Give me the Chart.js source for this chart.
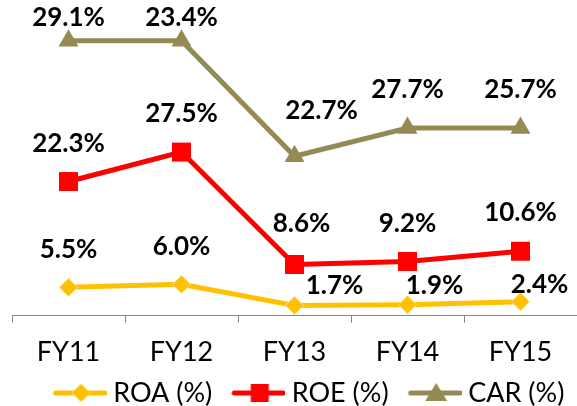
<!DOCTYPE html>
<html>
<head>
<meta charset="utf-8">
<script src="https://cdn.jsdelivr.net/npm/chart.js@4.4.0/dist/chart.umd.min.js"></script>
<style>
  body { margin: 0; background: #fff; overflow: hidden; }
</style>
</head>
<body>
<canvas id="chart" width="577" height="406"></canvas>
<script>
// categories
const years = ["FY11", "FY12", "FY13", "FY14", "FY15"];

// printed data labels (%)
const roaLabels = [5.5, 6.0, 1.7, 1.9, 2.4];
const roeLabels = [22.3, 27.5, 8.6, 9.2, 10.6];
const carLabels = [29.1, 23.4, 22.7, 27.7, 25.7];

// plotted levels (the original plot is not to the label values)
const roaPlotted = [4.7, 5.2, 1.7, 1.8, 2.3];
const roePlotted = [22.3, 27.2, 8.5, 9.0, 10.7];
const carPlotted = [45.7, 45.7, 26.5, 31.2, 31.2];

const FONT = "Lato, 'Open Sans', sans-serif";

// little line+marker swatches for the legend
function swatch(color, marker, border) {
    var c = document.createElement("canvas");
    c.width = 60; c.height = 28;
    var g = c.getContext("2d");
    g.strokeStyle = color; g.lineWidth = 5; g.lineCap = "round";
    g.beginPath(); g.moveTo(9, 14); g.lineTo(58, 14); g.stroke();
    g.fillStyle = color;
    var cx = 34.5, cy = 14;
    g.beginPath();
    if (marker == "diamond") {
        g.moveTo(cx, cy - 9); g.lineTo(cx + 9, cy); g.lineTo(cx, cy + 9); g.lineTo(cx - 9, cy);
    } else if (marker == "square") {
        g.rect(cx - 9, cy - 9, 18, 18);
    } else {
        g.moveTo(cx, cy - 10); g.lineTo(cx + 11, cy + 8); g.lineTo(cx - 11, cy + 8);
    }
    g.closePath(); g.fill();
    if (border) { g.strokeStyle = border; g.lineWidth = 1; g.stroke(); }
    return c;
}
const swatches = [
    swatch("#FFC000", "diamond", "#FFE07A"),
    swatch("#FF0000", "square"),
    swatch("#948A54", "triangle")
];

// value labels drawn over the points
const valueLabels = {
    id: "valueLabels",
    afterDatasetsDraw(chart, args, opts) {
        const ctx = chart.ctx;
        ctx.save();
        ctx.font = "bold 26px " + FONT;
        ctx.fillStyle = "#000";
        ctx.textAlign = "center";
        ctx.textBaseline = "middle";
        chart.data.datasets.forEach(function (ds, i) {
            const meta = chart.getDatasetMeta(i);
            meta.data.forEach(function (pt, j) {
                const off = (opts.offsets[i] && opts.offsets[i][j]) || [0, -38];
                ctx.fillText(ds.printed[j].toFixed(1) + "%", pt.x + off[0], pt.y + off[1]);
            });
        });
        ctx.restore();
    }
};

// nudge the legend into place
const legendNudge = {
    id: "legendNudge",
    afterLayout(chart, args, opts) {
        chart.legend.left += opts.x; chart.legend.right += opts.x;
        chart.legend.top += opts.y; chart.legend.bottom += opts.y;
    }
};

new Chart(document.getElementById("chart"), {
    type: "line",
    data: {
        labels: years,
        datasets: [
            {
                label: "ROA (%)", data: roaPlotted, printed: roaLabels,
                borderColor: "#FFC000", backgroundColor: "#FFC000", borderWidth: 5,
                pointStyle: "rectRot", pointRadius: 9, pointBackgroundColor: "#FFC000",
                pointBorderColor: "#FFE07A", pointBorderWidth: 1
            },
            {
                label: "ROE (%)", data: roePlotted, printed: roeLabels,
                borderColor: "#FF0000", backgroundColor: "#FF0000", borderWidth: 5,
                pointStyle: "rect", pointRadius: 13.4, pointBorderWidth: 0
            },
            {
                label: "CAR (%)", data: carPlotted, printed: carLabels,
                borderColor: "#948A54", backgroundColor: "#948A54", borderWidth: 5,
                pointStyle: "triangle", pointRadius: 11.5, pointBorderWidth: 0
            }
        ]
    },
    options: {
        responsive: false,
        animation: false,
        devicePixelRatio: 1,
        clip: false,
        layout: { autoPadding: false, padding: { left: 12, right: -5, top: 15, bottom: -32 } },
        scales: {
            x: {
                offset: true,
                grid: { offset: true, drawOnChartArea: false, tickLength: 7, color: "#868686" },
                border: { color: "#868686", width: 1 },
                ticks: { color: "#000", padding: 13, font: { family: FONT, size: 27 } }
            },
            y: { display: false, min: 0, max: 50 }
        },
        plugins: {
            tooltip: { enabled: false },
            legend: {
                position: "bottom",
                labels: {
                    usePointStyle: true,
                    pointStyleWidth: 46,
                    padding: 20,
                    color: "#000",
                    font: { family: FONT, size: 27 },
                    generateLabels: function (chart) {
                        const items = Chart.defaults.plugins.legend.labels.generateLabels(chart);
                        items.forEach(function (it, i) { it.pointStyle = swatches[i]; });
                        return items;
                    }
                }
            },
            legendNudge: { x: 12, y: -21.5 },
            valueLabels: {
                offsets: [
                    [null, null, [40, -20], [27, -19], [19, -17]],
                    [null, null, [7, -41], null, [0, -39]],
                    [[0, -23], [0, -23], [27, -46], null, null]
                ]
            }
        }
    },
    plugins: [valueLabels, legendNudge]
});
</script>
</body>
</html>
